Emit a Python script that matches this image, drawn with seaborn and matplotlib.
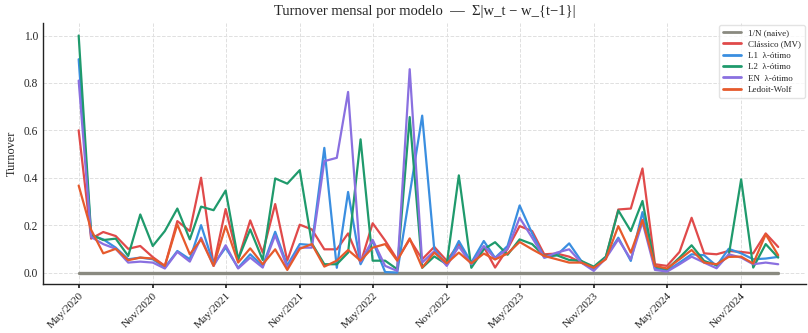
import numpy as np
import pandas as pd
import matplotlib
matplotlib.use("Agg")
import matplotlib.pyplot as plt
import matplotlib.dates as mdates
import seaborn as sns

dates = pd.date_range("2020-05-01", periods=58, freq="MS")

naive = [0.0] * 58
classico = [0.60, 0.143, 0.171, 0.154, 0.10, 0.112, 0.065, 0.028, 0.217, 0.175,
            0.40, 0.03, 0.268, 0.055, 0.22, 0.084, 0.289, 0.05, 0.202, 0.182,
            0.098, 0.098, 0.165, 0.04, 0.208, 0.135, 0.055, 0.14, 0.056, 0.108,
            0.05, 0.12, 0.04, 0.108, 0.021, 0.10, 0.196, 0.175, 0.077, 0.08,
            0.067, 0.042, 0.02, 0.063, 0.266, 0.27, 0.439, 0.035, 0.028, 0.087,
            0.231, 0.081, 0.077, 0.091, 0.087, 0.081, 0.165, 0.108]
l1 = [0.90, 0.157, 0.14, 0.105, 0.056, 0.063, 0.056, 0.021, 0.091, 0.056,
      0.20, 0.035, 0.105, 0.02, 0.077, 0.028, 0.172, 0.03, 0.12, 0.116,
      0.526, 0.02, 0.34, 0.035, 0.133, 0.002, 0.0, 0.33, 0.662, 0.098,
      0.032, 0.133, 0.042, 0.133, 0.062, 0.112, 0.283, 0.165, 0.063, 0.073,
      0.123, 0.049, 0.011, 0.065, 0.147, 0.049, 0.255, 0.017, 0.007, 0.042,
      0.077, 0.073, 0.028, 0.10, 0.081, 0.056, 0.059, 0.066]
l2 = [1.0, 0.16, 0.137, 0.143, 0.07, 0.245, 0.112, 0.175, 0.27, 0.14,
      0.278, 0.263, 0.346, 0.056, 0.182, 0.053, 0.397, 0.375, 0.432, 0.123,
      0.035, 0.035, 0.084, 0.562, 0.05, 0.05, 0.014, 0.656, 0.02, 0.068,
      0.035, 0.41, 0.02, 0.098, 0.128, 0.075, 0.14, 0.12, 0.07, 0.073,
      0.053, 0.049, 0.025, 0.067, 0.262, 0.175, 0.302, 0.025, 0.014, 0.063,
      0.115, 0.049, 0.031, 0.07, 0.393, 0.021, 0.12, 0.063]
en = [0.81, 0.15, 0.12, 0.10, 0.042, 0.046, 0.042, 0.017, 0.087, 0.046,
      0.147, 0.028, 0.115, 0.017, 0.063, 0.021, 0.157, 0.021, 0.105, 0.105,
      0.47, 0.484, 0.762, 0.045, 0.138, 0.028, 0.007, 0.858, 0.042, 0.09,
      0.028, 0.11, 0.035, 0.112, 0.06, 0.10, 0.231, 0.147, 0.063, 0.084,
      0.098, 0.042, 0.007, 0.06, 0.14, 0.056, 0.213, 0.011, 0.004, 0.035,
      0.067, 0.042, 0.018, 0.077, 0.063, 0.035, 0.042, 0.035]
ledoit = [0.367, 0.18, 0.081, 0.10, 0.052, 0.063, 0.059, 0.028, 0.203, 0.077,
          0.14, 0.028, 0.196, 0.042, 0.102, 0.035, 0.098, 0.011, 0.10, 0.12,
          0.025, 0.05, 0.095, 0.05, 0.105, 0.12, 0.05, 0.144, 0.021, 0.084,
          0.039, 0.084, 0.039, 0.08, 0.055, 0.08, 0.129, 0.098, 0.07, 0.056,
          0.042, 0.042, 0.02, 0.056, 0.196, 0.084, 0.222, 0.028, 0.017, 0.056,
          0.095, 0.042, 0.035, 0.066, 0.067, 0.038, 0.161, 0.073]

labels = ["1/N (naive)", "Clássico (MV)", "L1  λ-ótimo", "L2  λ-ótimo",
          "EN  λ-ótimo", "Ledoit-Wolf"]
colors = ["#8a8a80", "#e04a4a", "#3a8ee0", "#1f9a6c", "#8a70e0", "#e65a2c"]

series = [naive, classico, l1, l2, en, ledoit]
frames = []
for lab, vals in zip(labels, series):
    frames.append(pd.DataFrame({"date": dates, "turnover": vals, "modelo": lab}))
df = pd.concat(frames, ignore_index=True)

sns.set_theme(style="whitegrid")
plt.rcParams["font.family"] = ["Liberation Serif", "DejaVu Serif"]
plt.rcParams["grid.linestyle"] = "--"
plt.rcParams["grid.color"] = "#dddddd"

fig = plt.figure(figsize=(8.08, 3.33), dpi=100)
ax = fig.add_axes([0.053, 0.146, 0.945, 0.785])

sns.lineplot(data=df, x="date", y="turnover", hue="modelo", hue_order=labels,
             palette=dict(zip(labels, colors)), ax=ax, linewidth=1.6)
for line, lab in zip(ax.get_lines(), labels):
    if lab == labels[0]:
        line.set_linewidth(2.4)

ax.set_ylim(-0.05, 1.053)
ax.set_xlim(dates[0] - pd.Timedelta(days=89), dates[-1] + pd.Timedelta(days=70))
ax.set_yticks([0.0, 0.2, 0.4, 0.6, 0.8, 1.0])
ax.yaxis.set_major_formatter(matplotlib.ticker.FormatStrFormatter("%.1f"))
ax.xaxis.set_major_locator(mdates.MonthLocator(bymonth=[5, 11]))
ax.xaxis.set_major_formatter(mdates.DateFormatter("%b/%Y"))
for lbl in ax.get_xticklabels():
    lbl.set_rotation(45)
    lbl.set_ha("right")
    lbl.set_rotation_mode("anchor")
ax.tick_params(axis="x", labelsize=8.2, length=3, pad=2, color="#222222", bottom=True)
ax.tick_params(axis="y", labelsize=8.3, length=0)
ax.set_xlabel("")
ax.set_ylabel("Turnover", fontsize=8.8)
ax.set_title("Turnover mensal por modelo  —  Σ|w_t − w_{t−1}|", fontsize=10.5)
for s in ["top", "right"]:
    ax.spines[s].set_visible(False)
for s in ["left", "bottom"]:
    ax.spines[s].set_color("#222222")
    ax.spines[s].set_linewidth(1.0)
ax.grid(True, linestyle="--", color="#e0e0e0", linewidth=0.7)

leg = ax.legend(loc="upper right", fontsize=6.5, frameon=True, title=None,
                borderaxespad=0.2, handlelength=2.0, labelspacing=0.35,
                borderpad=0.4)
leg.get_frame().set_edgecolor("#dddddd")
for h, lab in zip(leg.get_lines(), labels):
    h.set_linewidth(2.0)

fig.savefig("out.png", dpi=100)
